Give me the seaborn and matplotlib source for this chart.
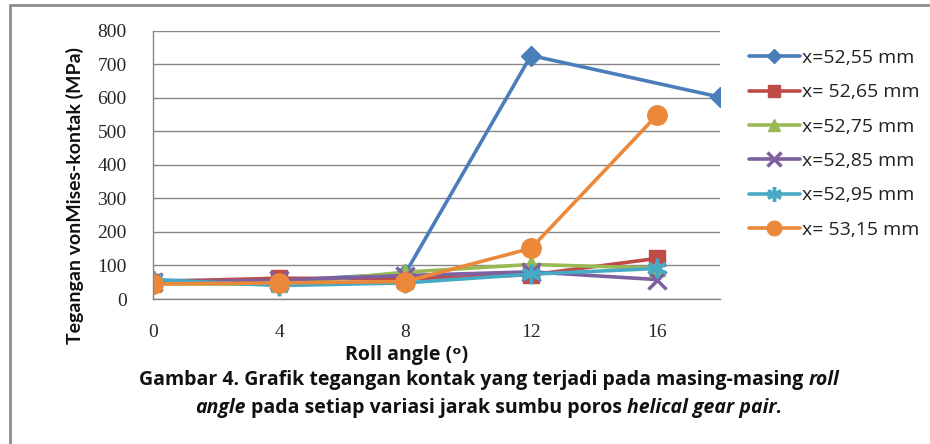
import numpy as np
import seaborn as sns
import matplotlib.pyplot as plt
from matplotlib.lines import Line2D

# data
roll = [0, 4, 8, 12, 16]
roll_a = [0, 4, 8, 12, 18]
s1 = [55, 55, 75, 726, 602]      # x=52,55 mm
s2 = [52, 62, 60, 72, 121]       # x= 52,65 mm
s3 = [45, 44, 80, 103, 92]       # x=52,75 mm
s4 = [50, 56, 70, 81, 58]        # x=52,85 mm
s5 = [58, 40, 48, 74, 91]        # x=52,95 mm
s6 = [45, 48, 52, 151, 548]      # x= 53,15 mm
names = ["x=52,55 mm", "x= 52,65 mm", "x=52,75 mm",
         "x=52,85 mm", "x=52,95 mm", "x= 53,15 mm"]
yticks = [0, 100, 200, 300, 400, 500, 600, 700, 800]

colors = ["#4A7EBB", "#BE4B48", "#98B954", "#7D60A0", "#46AAC5", "#EB883A"]
marks = ["D", "s", "^", "x", (6, 2, 0), "o"]
msize = [10, 12, 12, 13, 14, 14]

sns.set_style("white")
plt.rcParams["font.family"] = ["Open Sans", "DejaVu Sans"]

W, H = 930, 444
fig = plt.figure(figsize=(W / 100, H / 100), dpi=100)
ax = fig.add_axes([153 / W, 1 - 299 / H, 567 / W, 268.3 / H])

xs = [roll_a, roll, roll, roll, roll, roll]
ys = [s1, s2, s3, s4, s5, s6]
for i in range(6):
    sns.lineplot(x=xs[i], y=ys[i], ax=ax, color=colors[i], marker=marks[i],
                 markersize=msize[i], markeredgecolor=colors[i],
                 markeredgewidth=2.5 if marks[i] in ("x", (6, 2, 0)) else 1,
                 linewidth=2.6, label=names[i])

gray = "#868686"
ax.set_xlim(0, 18)
ax.set_ylim(0, 800)
ax.set_xticks(roll)
ax.set_yticks(yticks)
ax.yaxis.grid(True, color=gray, lw=1)
ax.xaxis.grid(False)
for s in ["top", "right"]:
    ax.spines[s].set_visible(False)
for s in ["left", "bottom"]:
    ax.spines[s].set_color(gray)
    ax.spines[s].set_linewidth(1)
ax.tick_params(axis="both", direction="out", color=gray, width=1,
               labelsize=14)
ax.tick_params(axis="y", length=7, pad=12)
ax.tick_params(axis="x", length=8, pad=10)
for t in ax.get_xticklabels() + ax.get_yticklabels():
    t.set_family("Liberation Serif")

ax.set_xlabel("Roll angle (ᵒ)", fontsize=14, fontweight="bold", color="#111111")
ax.xaxis.set_label_coords((407 - 153) / 567, (299 - 355) / 268.3)
ax.xaxis.label.set_va("center")
ax.set_ylabel("Tegangan vonMises-kontak (MPa)", fontsize=14, fontweight="bold",
              family=["Lato", "DejaVu Sans"], color="#111111")
ax.yaxis.set_label_coords((75 - 153) / 567, (299 - 195) / 268.3)
ax.yaxis.label.set_va("center")

leg = ax.legend(loc="upper left", bbox_to_anchor=(749 / W, 1 - 49 / H),
                bbox_transform=fig.transFigure, frameon=False, fontsize=14,
                handlelength=2.6, handletextpad=0.1, labelspacing=0.84,
                markerscale=0.75, borderaxespad=0, borderpad=0)
for t in leg.get_texts():
    t.set_color("#222222")

# frame of the figure box
fig.add_artist(Line2D([10 / W, 10 / W], [0, 1 - 5 / H], transform=fig.transFigure,
                      color="#8C8C8C", lw=2))
fig.add_artist(Line2D([10 / W, 1], [1 - 5 / H, 1 - 5 / H], transform=fig.transFigure,
                      color="#8C8C8C", lw=2))

# caption with mixed italic parts
cap1 = [("Gambar 4. Grafik tegangan kontak yang terjadi pada masing-masing", "normal"),
        ("roll", "italic")]
cap2 = [("angle", "italic"), ("pada setiap variasi jarak sumbu poros", "normal"),
        ("helical gear pair.", "italic")]
cap_size = 14

fig.canvas.draw()
r = fig.canvas.get_renderer()


def width(s, style):
    t = fig.text(0, 0, s, fontsize=cap_size, fontweight="bold", style=style)
    w = t.get_window_extent(r).width
    t.remove()
    return w


sp = width("a a", "normal") - width("aa", "normal")


def caption(parts, yc, cx):
    ws = [width(p, st) for p, st in parts]
    total = sum(ws) + sp * (len(parts) - 1)
    x = cx - total / 2
    for (p, st), w in zip(parts, ws):
        fig.text(x / W, 1 - yc / H, p, fontsize=cap_size, fontweight="bold",
                 style=st, va="center", ha="left", color="#111111")
        x += w + sp


caption(cap1, 380, 489)
caption(cap2, 408, 489)

fig.savefig("out.png", dpi=100)
